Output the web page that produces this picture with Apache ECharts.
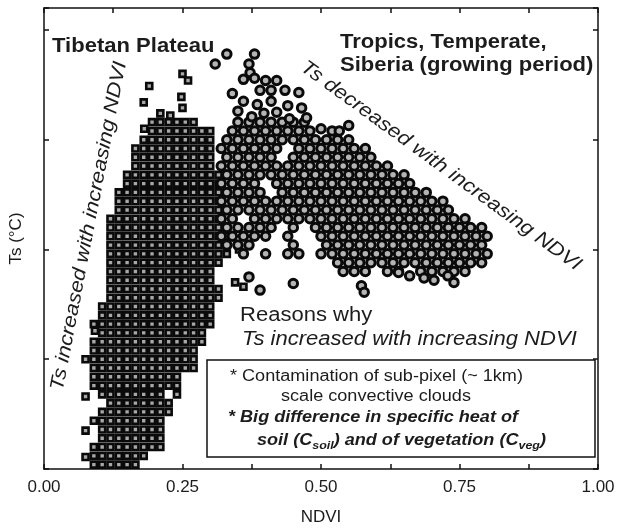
<!DOCTYPE html>
<html>
<head>
<meta charset="utf-8">
<script src="https://cdn.jsdelivr.net/npm/echarts@6/dist/echarts.min.js"></script>
<style>
  html, body { margin: 0; padding: 0; background: #fff; }
  #chart { width: 620px; height: 532px; }
</style>
</head>
<body>
<div id="chart"></div>
<script>
// x tick labels (NDVI)
const xTickLabels = ['0.00', '0.25', '0.50', '0.75', '1.00'];

// Tibetan Plateau: rows of [Ts, [NDVI ...]]
const tibetRows = [
  [0.4, [0.09, 0.105, 0.12, 0.135, 0.15, 0.165]],
  [1.2, [0.09, 0.105, 0.12, 0.135, 0.15, 0.165, 0.18]],
  [2.0, [0.09, 0.105, 0.12, 0.135, 0.15, 0.165, 0.18, 0.195, 0.21]],
  [2.8, [0.105, 0.12, 0.135, 0.15, 0.165, 0.18, 0.195, 0.21]],
  [3.6, [0.105, 0.12, 0.135, 0.15, 0.165, 0.18, 0.195, 0.21]],
  [4.4, [0.09, 0.105, 0.12, 0.135, 0.15, 0.165, 0.18, 0.195, 0.21]],
  [5.2, [0.105, 0.12, 0.135, 0.15, 0.165, 0.18, 0.195, 0.21, 0.225]],
  [6.0, [0.12, 0.135, 0.15, 0.165, 0.18, 0.195, 0.21, 0.225]],
  [6.8, [0.105, 0.12, 0.135, 0.15, 0.165, 0.18, 0.195, 0.21, 0.24]],
  [7.6, [0.09, 0.105, 0.12, 0.135, 0.15, 0.165, 0.18, 0.195, 0.21, 0.225, 0.24]],
  [8.4, [0.09, 0.105, 0.12, 0.135, 0.15, 0.165, 0.18, 0.195, 0.21, 0.225, 0.24]],
  [9.2, [0.09, 0.105, 0.12, 0.135, 0.15, 0.165, 0.18, 0.195, 0.21, 0.225, 0.24, 0.255, 0.27]],
  [10.0, [0.075, 0.09, 0.105, 0.12, 0.135, 0.15, 0.165, 0.18, 0.195, 0.21, 0.225, 0.24, 0.255, 0.27]],
  [10.8, [0.09, 0.105, 0.12, 0.135, 0.15, 0.165, 0.18, 0.195, 0.21, 0.225, 0.24, 0.255, 0.27]],
  [11.6, [0.09, 0.105, 0.12, 0.135, 0.15, 0.165, 0.18, 0.195, 0.21, 0.225, 0.24, 0.255, 0.27, 0.285]],
  [12.4, [0.105, 0.12, 0.135, 0.15, 0.165, 0.18, 0.195, 0.21, 0.225, 0.24, 0.255, 0.27, 0.285]],
  [13.2, [0.09, 0.105, 0.12, 0.135, 0.15, 0.165, 0.18, 0.195, 0.21, 0.225, 0.24, 0.255, 0.27, 0.285, 0.3]],
  [14.0, [0.105, 0.12, 0.135, 0.15, 0.165, 0.18, 0.195, 0.21, 0.225, 0.24, 0.255, 0.27, 0.285, 0.3]],
  [14.8, [0.105, 0.12, 0.135, 0.15, 0.165, 0.18, 0.195, 0.21, 0.225, 0.24, 0.255, 0.27, 0.285, 0.3]],
  [15.6, [0.12, 0.135, 0.15, 0.165, 0.18, 0.195, 0.21, 0.225, 0.24, 0.255, 0.27, 0.285, 0.3, 0.315]],
  [16.4, [0.12, 0.135, 0.15, 0.165, 0.18, 0.195, 0.21, 0.225, 0.24, 0.255, 0.27, 0.285, 0.3, 0.315]],
  [17.2, [0.12, 0.135, 0.15, 0.165, 0.18, 0.195, 0.21, 0.225, 0.24, 0.255, 0.27, 0.285, 0.3]],
  [18.0, [0.12, 0.135, 0.15, 0.165, 0.18, 0.195, 0.21, 0.225, 0.24, 0.255, 0.27, 0.285, 0.3]],
  [18.8, [0.12, 0.135, 0.15, 0.165, 0.18, 0.195, 0.21, 0.225, 0.24, 0.255, 0.27, 0.285, 0.3, 0.315]],
  [19.6, [0.12, 0.135, 0.15, 0.165, 0.18, 0.195, 0.21, 0.225, 0.24, 0.255, 0.27, 0.285, 0.3, 0.315, 0.33]],
  [20.4, [0.12, 0.135, 0.15, 0.165, 0.18, 0.195, 0.21, 0.225, 0.24, 0.255, 0.27, 0.285, 0.3, 0.315, 0.33]],
  [21.2, [0.12, 0.135, 0.15, 0.165, 0.18, 0.195, 0.21, 0.225, 0.24, 0.255, 0.27, 0.285, 0.3, 0.315, 0.33]],
  [22.0, [0.12, 0.135, 0.15, 0.165, 0.18, 0.195, 0.21, 0.225, 0.24, 0.255, 0.27, 0.285, 0.3, 0.315, 0.33]],
  [22.8, [0.12, 0.135, 0.15, 0.165, 0.18, 0.195, 0.21, 0.225, 0.24, 0.255, 0.27, 0.285, 0.3, 0.315]],
  [23.6, [0.135, 0.15, 0.165, 0.18, 0.195, 0.21, 0.225, 0.24, 0.255, 0.27, 0.285, 0.3, 0.315]],
  [24.4, [0.135, 0.15, 0.165, 0.18, 0.195, 0.21, 0.225, 0.24, 0.255, 0.27, 0.285, 0.3, 0.315]],
  [25.2, [0.135, 0.15, 0.165, 0.18, 0.195, 0.21, 0.225, 0.24, 0.255, 0.27, 0.285, 0.3, 0.315]],
  [26.0, [0.15, 0.165, 0.18, 0.195, 0.21, 0.225, 0.24, 0.255, 0.27, 0.285, 0.3, 0.315]],
  [26.8, [0.15, 0.165, 0.18, 0.195, 0.21, 0.225, 0.24, 0.255, 0.27, 0.285, 0.3, 0.315]],
  [27.6, [0.165, 0.18, 0.195, 0.21, 0.225, 0.24, 0.255, 0.27, 0.285, 0.3]],
  [28.4, [0.165, 0.18, 0.195, 0.21, 0.225, 0.24, 0.255, 0.27, 0.285, 0.3]],
  [29.2, [0.165, 0.18, 0.195, 0.21, 0.225, 0.24, 0.255, 0.27, 0.285, 0.3]],
  [30.0, [0.18, 0.195, 0.21, 0.225, 0.24, 0.255, 0.27, 0.285, 0.3]],
  [30.8, [0.195, 0.21, 0.225, 0.24, 0.255, 0.27, 0.285, 0.3]],
  [31.6, [0.195, 0.21, 0.225, 0.24, 0.255, 0.27]]
];
// scattered single squares [NDVI, Ts]
const tibetExtra = [
  [0.075, 1.1], [0.075, 3.5], [0.075, 6.6], [0.092, 12.6], [0.181, 31.0],
  [0.21, 32.4], [0.228, 32.2], [0.18, 33.4], [0.19, 34.9], [0.25, 32.9],
  [0.248, 33.9], [0.25, 36.0], [0.26, 35.4], [0.345, 17.0], [0.36, 16.6], [0.352, 20.0]
];

// Tropics, Temperate, Siberia: rows of [Ts, [NDVI ...]]
const tropicsRows = [
  [31.6, [0.35, 0.37, 0.39, 0.41, 0.43, 0.45, 0.47]],
  [30.8, [0.34, 0.36, 0.38, 0.40, 0.42, 0.44, 0.46, 0.48, 0.52]],
  [30.0, [0.33, 0.35, 0.37, 0.39, 0.41, 0.43, 0.45, 0.47, 0.49, 0.51, 0.53, 0.55]],
  [29.2, [0.32, 0.34, 0.36, 0.38, 0.40, 0.42, 0.46, 0.48, 0.50, 0.52, 0.54, 0.56, 0.58]],
  [28.4, [0.33, 0.35, 0.37, 0.39, 0.41, 0.45, 0.47, 0.49, 0.51, 0.53, 0.55, 0.57, 0.59]],
  [27.6, [0.32, 0.34, 0.36, 0.38, 0.40, 0.42, 0.44, 0.46, 0.48, 0.50, 0.52, 0.54, 0.56, 0.58, 0.60, 0.62]],
  [26.8, [0.33, 0.35, 0.37, 0.39, 0.41, 0.43, 0.45, 0.47, 0.49, 0.51, 0.53, 0.55, 0.57, 0.59, 0.61, 0.63, 0.65]],
  [26.0, [0.32, 0.34, 0.36, 0.38, 0.42, 0.44, 0.46, 0.48, 0.50, 0.52, 0.54, 0.56, 0.58, 0.60, 0.62, 0.64, 0.66]],
  [25.2, [0.33, 0.35, 0.37, 0.39, 0.43, 0.45, 0.47, 0.49, 0.51, 0.53, 0.55, 0.57, 0.59, 0.61, 0.63, 0.65, 0.67, 0.69]],
  [24.4, [0.32, 0.34, 0.36, 0.38, 0.40, 0.42, 0.44, 0.46, 0.48, 0.50, 0.52, 0.54, 0.56, 0.58, 0.60, 0.62, 0.64, 0.66, 0.68, 0.70, 0.72]],
  [23.6, [0.33, 0.35, 0.37, 0.39, 0.41, 0.43, 0.45, 0.47, 0.49, 0.51, 0.53, 0.55, 0.57, 0.59, 0.61, 0.63, 0.65, 0.67, 0.69, 0.71, 0.73]],
  [22.8, [0.32, 0.34, 0.38, 0.40, 0.42, 0.44, 0.46, 0.48, 0.50, 0.52, 0.54, 0.56, 0.58, 0.60, 0.62, 0.64, 0.66, 0.68, 0.70, 0.72, 0.74, 0.76]],
  [22.0, [0.33, 0.35, 0.37, 0.39, 0.41, 0.45, 0.49, 0.51, 0.53, 0.55, 0.57, 0.59, 0.61, 0.63, 0.65, 0.67, 0.69, 0.71, 0.73, 0.75, 0.77, 0.79]],
  [21.2, [0.32, 0.34, 0.36, 0.38, 0.40, 0.44, 0.50, 0.52, 0.54, 0.56, 0.58, 0.60, 0.62, 0.64, 0.66, 0.68, 0.70, 0.72, 0.74, 0.76, 0.78, 0.80]],
  [20.4, [0.33, 0.35, 0.37, 0.45, 0.51, 0.53, 0.55, 0.57, 0.59, 0.61, 0.63, 0.65, 0.67, 0.69, 0.71, 0.73, 0.75, 0.77, 0.79]],
  [19.6, [0.36, 0.40, 0.44, 0.46, 0.50, 0.52, 0.54, 0.56, 0.58, 0.60, 0.62, 0.64, 0.66, 0.68, 0.70, 0.72, 0.74, 0.76, 0.78, 0.80]],
  [18.8, [0.53, 0.55, 0.57, 0.59, 0.61, 0.63, 0.65, 0.67, 0.69, 0.71, 0.73, 0.75, 0.77, 0.79]],
  [18.0, [0.54, 0.56, 0.58, 0.62, 0.64, 0.68, 0.70, 0.72, 0.74, 0.76]]
];
// scattered single circles [NDVI, Ts]
const tropicsExtra = [
  [0.33, 37.8], [0.38, 37.8], [0.309, 36.9], [0.37, 36.9], [0.372, 36.1],
  [0.36, 35.5], [0.38, 35.6], [0.40, 35.4], [0.42, 35.4], [0.435, 34.5],
  [0.34, 34.2], [0.39, 34.5], [0.41, 34.5], [0.46, 34.3], [0.36, 33.5],
  [0.385, 33.2], [0.41, 33.5], [0.44, 33.1], [0.465, 32.9], [0.35, 32.6],
  [0.375, 32.1], [0.397, 32.4], [0.42, 32.5], [0.443, 31.9], [0.474, 32.0],
  [0.50, 31.0], [0.533, 30.8], [0.55, 31.3],
  [0.37, 17.5], [0.39, 16.3], [0.45, 16.9], [0.573, 16.7], [0.578, 16.1],
  [0.64, 17.9], [0.66, 17.6], [0.686, 17.4], [0.704, 17.2], [0.729, 17.6], [0.74, 17.0]
];

function toPoints(rows, extra) {
  const pts = [];
  rows.forEach(function (row) {
    row[1].forEach(function (x) { pts.push([x, row[0]]); });
  });
  return pts.concat(extra);
}

const font = 'Liberation Sans';
const ink = '#1c1c1c';

const chart = echarts.init(document.getElementById('chart'));

const frameAxis = {
  type: 'value',
  axisLine: { show: true, onZero: false, lineStyle: { color: '#111', width: 1.5 } },
  axisTick: { show: true, inside: true, length: 5, lineStyle: { color: '#111', width: 1.5 } },
  splitLine: { show: false }
};

const option = {
  backgroundColor: '#fff',
  animation: false,
  grid: { left: 41, top: 8, width: 557, height: 461 },
  xAxis: [
    Object.assign({}, frameAxis, {
      position: 'bottom', min: 0, max: 1, interval: 0.25,
      minorTick: { show: true, splitNumber: 2, length: 5, lineStyle: { color: '#111', width: 1.5 } },
      axisLabel: {
        margin: 10, fontSize: 17, color: ink, fontFamily: font,
        formatter: function (v) { return xTickLabels[Math.round(v / 0.25)]; }
      },
      name: 'NDVI', nameLocation: 'middle', nameGap: 40,
      nameTextStyle: { fontSize: 17, color: ink, fontFamily: font }
    }),
    Object.assign({}, frameAxis, {
      position: 'top', min: 0, max: 1, interval: 0.25,
      minorTick: { show: true, splitNumber: 2, length: 5, lineStyle: { color: '#111', width: 1.5 } },
      axisLabel: { show: false }
    })
  ],
  yAxis: [
    Object.assign({}, frameAxis, {
      position: 'left', min: 0, max: 42, interval: 10,
      axisLabel: { show: false },
      name: 'Ts (°C)', nameLocation: 'middle', nameGap: 19,
      nameTextStyle: { fontSize: 17, color: ink, fontFamily: font }
    }),
    Object.assign({}, frameAxis, {
      position: 'right', min: 0, max: 42, interval: 10,
      axisLabel: { show: false }
    })
  ],
  series: [
    {
      name: 'Tibetan Plateau',
      type: 'scatter',
      silent: true,
      symbol: 'rect',
      symbolSize: 6,
      data: toPoints(tibetRows, tibetExtra),
      itemStyle: { color: '#a8a8a8', borderColor: '#0a0a0a', borderWidth: 2.6, opacity: 1 },
      z: 2
    },
    {
      name: 'Tropics, Temperate, Siberia',
      type: 'scatter',
      silent: true,
      symbol: 'circle',
      symbolSize: 8.5,
      data: toPoints(tropicsRows, tropicsExtra),
      itemStyle: { color: '#b4b4b4', borderColor: '#0a0a0a', borderWidth: 3, opacity: 1 },
      z: 3
    }
  ],
  graphic: [
    { type: 'text', x: 52, y: 47, scaleX: 1.13, z: 10,
      style: { text: 'Tibetan Plateau', fontSize: 19.5, fontWeight: 'bold', fontFamily: font, fill: ink, align: 'left', verticalAlign: 'middle' } },
    { type: 'text', x: 340, y: 43, scaleX: 1.13, z: 10,
      style: { text: 'Tropics, Temperate,', fontSize: 19.5, fontWeight: 'bold', fontFamily: font, fill: ink, align: 'left', verticalAlign: 'middle' } },
    { type: 'text', x: 340, y: 66, scaleX: 1.13, z: 10,
      style: { text: 'Siberia (growing period)', fontSize: 19.5, fontWeight: 'bold', fontFamily: font, fill: ink, align: 'left', verticalAlign: 'middle' } },
    { type: 'text', x: 89, y: 226, rotation: 1.38, scaleX: 1.13, z: 10,
      style: { text: 'Ts increased with increasing NDVI', fontSize: 19.5, fontStyle: 'italic', fontFamily: font, fill: ink, align: 'center', verticalAlign: 'middle' } },
    { type: 'text', x: 441, y: 166, rotation: -0.63, scaleX: 1.13, z: 10,
      style: { text: 'Ts decreased with increasing NDVI', fontSize: 19.5, fontStyle: 'italic', fontFamily: font, fill: ink, align: 'center', verticalAlign: 'middle' } },
    { type: 'text', x: 240, y: 316, scaleX: 1.13, z: 10,
      style: { text: 'Reasons why', fontSize: 19.5, fontFamily: font, fill: ink, align: 'left', verticalAlign: 'middle' } },
    { type: 'text', x: 242, y: 340, scaleX: 1.13, z: 10,
      style: { text: 'Ts increased with increasing NDVI', fontSize: 19.5, fontStyle: 'italic', fontFamily: font, fill: ink, align: 'left', verticalAlign: 'middle' } },
    { type: 'rect', z: 10, shape: { x: 207, y: 360, width: 388, height: 97 },
      style: { fill: 'rgba(0,0,0,0)', stroke: '#111', lineWidth: 1.5 } },
    { type: 'text', x: 230, y: 377, scaleX: 1.13, z: 10,
      style: { text: '* Contamination of sub-pixel (~ 1km)', fontSize: 16, fontFamily: font, fill: ink, align: 'left', verticalAlign: 'middle' } },
    { type: 'text', x: 281, y: 397, scaleX: 1.13, z: 10,
      style: { text: 'scale convective clouds', fontSize: 16, fontFamily: font, fill: ink, align: 'left', verticalAlign: 'middle' } },
    { type: 'text', x: 228, y: 418, scaleX: 1.13, z: 10,
      style: { text: '* Big difference in specific heat of', fontSize: 16, fontWeight: 'bold', fontStyle: 'italic', fontFamily: font, fill: ink, align: 'left', verticalAlign: 'middle' } },
    { type: 'text', x: 257, y: 441, scaleX: 1.13, z: 10,
      style: {
        text: '{a|soil (C}{s|soil}{a|) and of vegetation (C}{s|veg}{a|)}',
        fontSize: 16, fontWeight: 'bold', fontStyle: 'italic', fontFamily: font, fill: ink,
        align: 'left', verticalAlign: 'middle',
        rich: {
          a: { fontSize: 16, fontWeight: 'bold', fontStyle: 'italic', fontFamily: font, fill: ink, color: ink, lineHeight: 20 },
          s: { fontSize: 11, fontWeight: 'bold', fontStyle: 'italic', fontFamily: font, fill: ink, color: ink, verticalAlign: 'bottom', lineHeight: 20 }
        }
      } }
  ]
};

chart.setOption(option);
</script>
</body>
</html>
